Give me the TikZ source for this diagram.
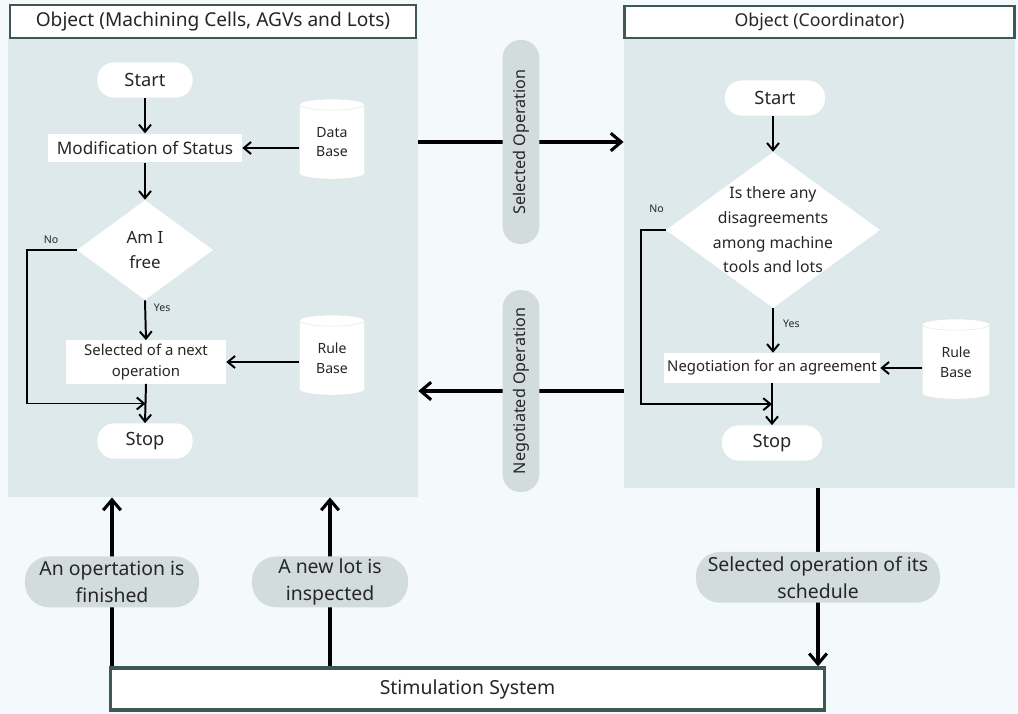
\documentclass[tikz,border=0pt]{standalone}
\usepackage{fontspec}
\setmainfont{Noto Sans}
\usetikzlibrary{arrows.meta,positioning,shapes.geometric,calc}
\definecolor{PageBG}   {HTML}{F4FAFB}
\definecolor{PanelBG}  {HTML}{DDE9EB}
\definecolor{FrameLine}{HTML}{3F5853}
\definecolor{TagFill}  {HTML}{D3DCDC}
\definecolor{BodyText} {HTML}{262626}

\tikzset{
    every node/.style={text=BodyText},
    panel/.style={fill=PanelBG,inner sep=0pt},
    header/.style={fill=white,draw=FrameLine,line width=1.6pt,inner sep=0pt},
    terminal/.style={fill=white,rounded corners=0.42cm,inner sep=0pt,
                     minimum height=0.88cm,font=\fontsize{13}{15}\selectfont},
    process/.style={fill=white,inner sep=0pt,align=center},
    decision/.style={diamond,fill=white,inner sep=0pt,align=center},
    store/.style={cylinder,shape border rotate=90,aspect=0.35,fill=white,draw=black!9,
                  inner sep=0pt,minimum width=1.62cm,minimum height=2cm,align=center,
                  font=\fontsize{10}{14}\selectfont},
    band/.style={fill=TagFill,rounded corners=0.45cm,inner sep=0pt,minimum height=0.92cm,
                 font=\fontsize{11.5}{14}\selectfont},
    tag/.style={fill=TagFill,rounded corners=0.6cm,inner sep=0pt,minimum height=1.27cm,
                align=center,font=\fontsize{13.8}{19}\selectfont},
    note/.style={font=\fontsize{7.5}{8}\selectfont,inner sep=1.5pt},
    flow/.style={-{Straight Barb[length=1.8mm,width=3mm]},line width=1.4pt},
    link/.style={-{Straight Barb[length=2.6mm,width=4.4mm]},line width=2.2pt},
}

\begin{document}
\begin{tikzpicture}[x=0.025cm,y=-0.025cm]
    \fill[PageBG] (0,0) rectangle (1018,714);
    \useasboundingbox (0,0) rectangle (1018,714);

    % the two objects
    \node[panel,minimum width=10.25cm,minimum height=11.48cm] (lpanel) at (213,267.5) {};
    \node[panel,minimum width=9.78cm,minimum height=11.25cm] (rpanel) at (819.5,263) {};
    \node[header,minimum width=10.15cm,minimum height=0.82cm,font=\fontsize{13.6}{15}\selectfont]
        (lhead) at (213,21.5) {Object (Machining Cells, AGVs and Lots)};
    \node[header,minimum width=9.75cm,minimum height=0.8cm,font=\fontsize{12.6}{15}\selectfont]
        (rhead) at (819.5,22) {Object (Coordinator)};

    % machining cells, AGVs and lots
    \node[terminal,minimum width=2.38cm] (lstart) at (145,80) {Start};
    \node[process,minimum width=4.85cm,minimum height=0.72cm,font=\fontsize{12.2}{14}\selectfont]
        (lmod) at (145,148) {Modification of Status};
    \node[store] (ldata) at (332,142) {Data\\Base};
    \node[decision,minimum width=3.4cm,minimum height=2.5cm,inner sep=-6pt,
          font=\fontsize{12}{18}\selectfont] (lfree) at (145,250) {Am I\\free};
    \node[process,minimum width=4cm,minimum height=1.08cm,font=\fontsize{10.6}{15}\selectfont]
        (lnext) at (146,362) {Selected of a next\\operation};
    \node[store] (lrule) at (332,358) {Rule\\Base};
    \node[terminal,minimum width=2.38cm] (lstop) at (145,441) {Stop};
    \coordinate (ljoin) at ($(lnext.south)!0.5!(lstop.north)$);

    \draw[flow] (lstart) -- (lmod);
    \draw[flow] (ldata.west |- lmod) -- (lmod.east);
    \draw[flow] (lmod) -- (lfree);
    \draw[flow] (lfree.south) -- node[note,right,pos=0.2,xshift=4pt] {Yes} (lnext.north);
    \draw[flow] (lrule.west |- lnext) -- (lnext.east);
    \draw[flow] (lnext.south) -- (lstop.north);
    \draw[flow] (lfree.west) -- ++(-50,0) node[note,above right,xshift=10pt,yshift=2pt] {No} |- (ljoin);

    % coordinator
    \node[terminal,minimum width=2.5cm] (rstart) at (775,98) {Start};
    \node[decision,minimum width=5.35cm,minimum height=3.9cm,inner sep=-14pt,
          font=\fontsize{11.2}{17.5}\selectfont]
        (rdis) at (773,230) {Is there any\\disagreements\\among machine\\tools and lots};
    \node[process,minimum width=5.4cm,minimum height=0.75cm,font=\fontsize{10.6}{12}\selectfont]
        (rneg) at (772,368) {Negotiation for an agreement};
    \node[store,minimum width=1.68cm] (rrule) at (956,362) {Rule\\Base};
    \node[terminal,minimum width=2.5cm] (rstop) at (772,443) {Stop};
    \coordinate (rjoin) at ($(rneg.south)!0.5!(rstop.north)$);

    \draw[flow] (rstart.south -| rdis.north) -- (rdis.north);
    \draw[flow] (rdis.south) -- node[note,right,pos=0.35,xshift=5pt] {Yes} (rneg.north -| rdis.south);
    \draw[flow] (rrule.west |- rneg) -- (rneg.east);
    \draw[flow] (rneg.south) -- (rstop.north);
    \draw[flow] (rdis.west) -- ++(-25,0) node[note,above right,xshift=4pt,yshift=10pt] {No} |- (rjoin);

    % messages between the objects
    \coordinate (selrow) at (0,142);
    \coordinate (negrow) at (0,391);
    \draw[link] (lpanel.east |- selrow) -- node[band,rotate=90,minimum width=5.1cm] (selop)
        {Selected Operation} (rpanel.west |- selrow);
    \draw[link] (rpanel.west |- negrow) -- node[band,rotate=90,minimum width=5.05cm] (negop)
        {Negotiated Operation} (lpanel.east |- negrow);

    % simulation system and its events
    \node[fill=white,draw=FrameLine,line width=2.4pt,minimum width=17.85cm,minimum height=1.05cm,
          font=\fontsize{13.8}{15}\selectfont] (sim) at (467.5,689) {Stimulation System};
    \coordinate (finx) at (112,0);
    \coordinate (lotx) at (330,0);
    \coordinate (schx) at (818,0);
    \draw[link] (sim.north -| finx) -- node[tag,minimum width=4.35cm] (finished)
        {An opertation is\\finished} (lpanel.south -| finx);
    \draw[link] (sim.north -| lotx) -- node[tag,minimum width=3.9cm] (newlot)
        {A new lot is\\inspected} (lpanel.south -| lotx);
    \draw[link] (rpanel.south -| schx) -- node[tag,minimum width=6.1cm] (sched)
        {Selected operation of its\\schedule} (sim.north -| schx);
\end{tikzpicture}
\end{document}
